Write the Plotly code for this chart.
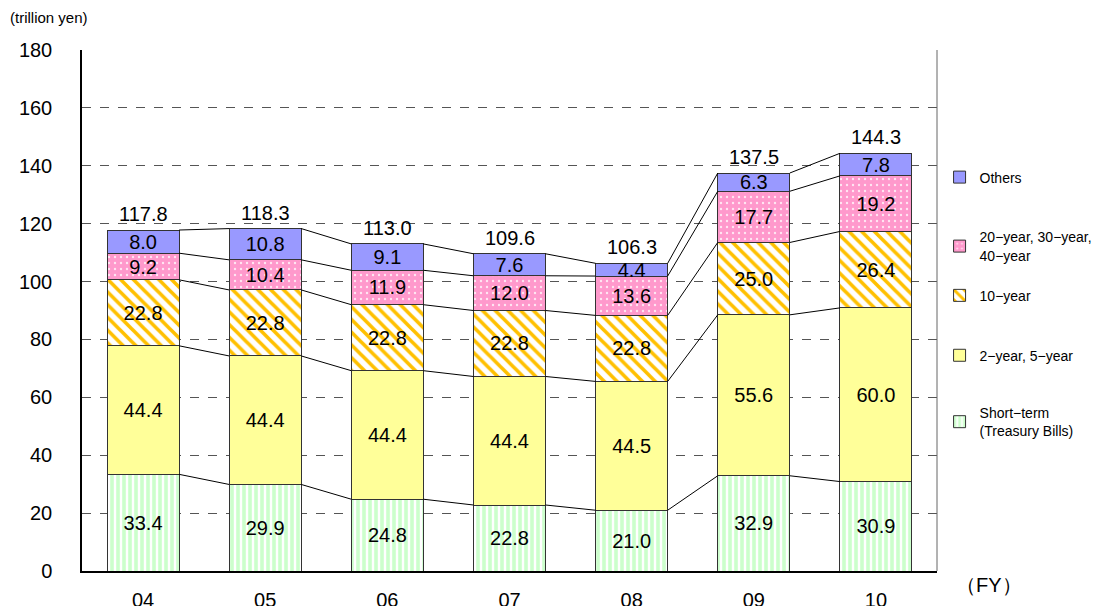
import plotly.graph_objects as go

years = ["04", "05", "06", "07", "08", "09", "10"]
short_term = [33.4, 29.9, 24.8, 22.8, 21.0, 32.9, 30.9]
two_five = [44.4, 44.4, 44.4, 44.4, 44.5, 55.6, 60.0]
ten_year = [22.8, 22.8, 22.8, 22.8, 22.8, 25.0, 26.4]
super_long = [9.2, 10.4, 11.9, 12.0, 13.6, 17.7, 19.2]
others = [8.0, 10.8, 9.1, 7.6, 4.4, 6.3, 7.8]
totals = [117.8, 118.3, 113.0, 109.6, 106.3, 137.5, 144.3]
y_ticks = [0, 20, 40, 60, 80, 100, 120, 140, 160, 180]

names = ["Short−term<br>(Treasury Bills)", "2−year, 5−year", "10−year",
         "20−year, 30−year,<br>40−year", "Others"]
series = [short_term, two_five, ten_year, super_long, others]
patterns = [
    dict(shape="|", fgcolor="white", bgcolor="#CCFFCC", size=6, solidity=0.4, fillmode="replace"),
    dict(shape="", bgcolor="#FFFF99", fgcolor="#FFFF99"),
    dict(shape="\\", fgcolor="#FFC000", bgcolor="white", size=9, solidity=0.4, fillmode="replace"),
    dict(shape=".", fgcolor="#FFE6F2", bgcolor="#FF99CC", size=6, solidity=0.12, fillmode="replace"),
    dict(shape="", bgcolor="#9999FF", fgcolor="#9999FF"),
]
solid = ["#CCFFCC", "#FFFF99", "#FFC000", "#FF99CC", "#9999FF"]
legend_ids = ["legend5", "legend4", "legend3", "legend2", "legend"]

xs = list(range(len(years)))
W = 0.59
FONT = "Liberation Sans, Arial, sans-serif"
FS = 20

fig = go.Figure()
for vals, nm, pat, col, lg in zip(series, names, patterns, solid, legend_ids):
    fig.add_trace(go.Bar(
        x=xs, y=vals, width=W, name=nm, legend=lg,
        marker=dict(color=pat.get("bgcolor", col), pattern=pat,
                    line=dict(color="#333333", width=1)),
        text=[f"{v:.1f}" for v in vals], textposition="inside",
        insidetextanchor="middle", textangle=0,
        textfont=dict(size=FS, color="black", family=FONT),
        hoverinfo="skip",
    ))

# connector lines between segment tops
cum = [0] * len(years)
for vals in series:
    cum = [c + v for c, v in zip(cum, vals)]
    lx, ly = [], []
    for i in range(len(years) - 1):
        lx += [xs[i] + W / 2, xs[i + 1] - W / 2, None]
        ly += [cum[i], cum[i + 1], None]
    fig.add_trace(go.Scatter(x=lx, y=ly, mode="lines", line=dict(color="black", width=1),
                             showlegend=False, hoverinfo="skip"))

for x, t in zip(xs, totals):
    fig.add_annotation(x=x, y=t, text=f"{t:.1f}", showarrow=False, yanchor="bottom",
                       yshift=3, font=dict(size=FS, color="black", family=FONT))

fig.update_layout(
    barmode="stack",
    width=1113, height=606,
    margin=dict(l=82, r=176, t=50, b=35),
    plot_bgcolor="white", paper_bgcolor="white",
    font=dict(family=FONT, color="black"),
    uniformtext=dict(minsize=FS, mode="show"),
    xaxis=dict(range=[-0.5, 6.5], tickvals=xs, ticktext=years, showgrid=False,
               showline=True, linecolor="black", linewidth=2, automargin=False,
               ticks="outside", ticklen=10, tickcolor="rgba(0,0,0,0)",
               tickfont=dict(size=FS), mirror=False, zeroline=False),
    yaxis=dict(range=[0, 180], tickvals=y_ticks, showgrid=True, gridcolor="#555555",
               griddash="dash", gridwidth=1, showline=True, linecolor="black", linewidth=1.5,
               ticks="outside", ticklen=24, tickcolor="rgba(0,0,0,0)", automargin=False,
               tickfont=dict(size=FS), zeroline=False),
)

# right border
fig.add_shape(type="line", xref="paper", yref="paper", x0=1, x1=1, y0=0, y1=1,
              line=dict(color="#666666", width=1))

legend_pos = {"legend": 0.786, "legend2": 0.671, "legend3": 0.559, "legend4": 0.444, "legend5": 0.334}
for lg, yy in legend_pos.items():
    fig.update_layout({lg: dict(x=1.003, y=yy, xanchor="left", yanchor="top",
                                font=dict(size=14, family=FONT), itemwidth=30,
                                bgcolor="rgba(0,0,0,0)", tracegroupgap=0)})

fig.add_annotation(text="(trillion yen)", xref="paper", yref="paper", x=-0.086, y=1.062,
                   xanchor="left", yanchor="middle", showarrow=False,
                   font=dict(size=15, family=FONT))
fig.add_annotation(text="（FY）", xref="paper", yref="paper", x=1.02, y=-0.027,
                   xanchor="left", yanchor="middle", showarrow=False,
                   font=dict(size=20, family=FONT))

fig.write_html("out.html")
